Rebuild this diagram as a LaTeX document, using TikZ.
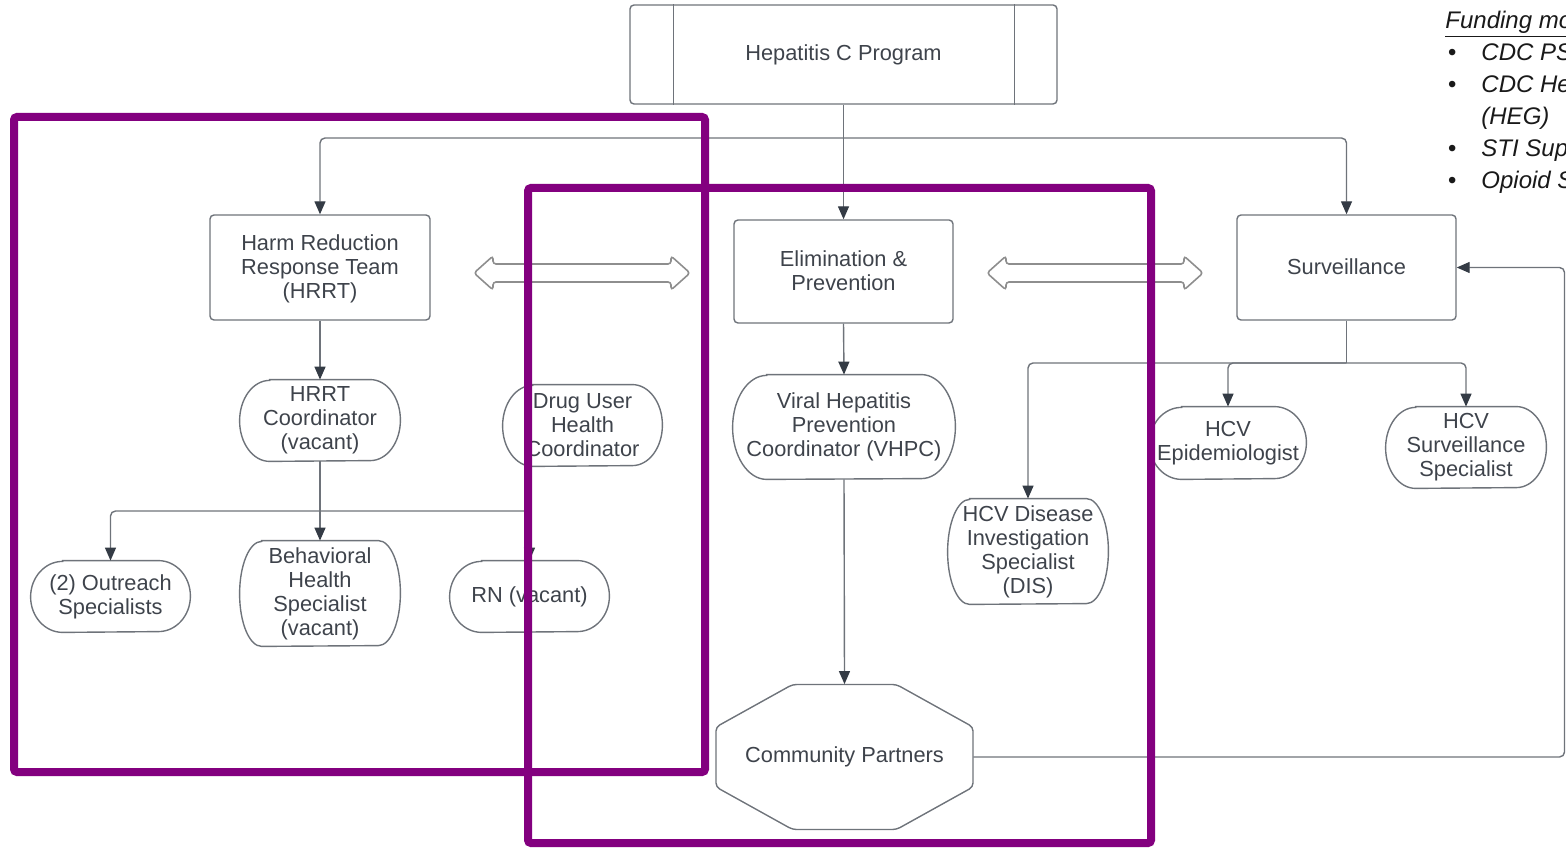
\documentclass[tikz,border=0pt]{standalone}
\usepackage{fontspec}
\setmainfont{Liberation Sans}
\usetikzlibrary{arrows.meta,calc}

\definecolor{edgegray}{HTML}{6E737A}
\definecolor{tipdark}{HTML}{343B45}
\definecolor{labelgray}{HTML}{3E434B}
\definecolor{framepurple}{HTML}{83007F}
\definecolor{arrowgray}{HTML}{8E8E8E}

% stadium-like staff node: name, cx, cy, width, height, end radius, text
\newcommand\pillnode[7]{%
  \node[lbl, minimum width=#4, minimum height=#5] (#1) at (#2,#3) {#7};
  \draw[nodeline] ([xshift=#6]#1.north west) -- ([xshift=-#6]#1.north east)
    arc[start angle=90, end angle=-90, x radius=#6, y radius=#5/2]
    -- ([xshift=#6]#1.south west)
    arc[start angle=270, end angle=90, x radius=#6, y radius=#5/2] -- cycle;}

\begin{document}
\begin{tikzpicture}[x=0.5pt,y=-0.5pt,
  lbl/.style={font=\fontsize{10.9}{12}\selectfont, text=labelgray, align=center, inner sep=0pt},
  nodeline/.style={draw=edgegray, line width=0.7pt},
  box/.style={lbl, draw=edgegray, line width=0.7pt, rounded corners=2pt},
  link/.style={draw=edgegray, line width=0.7pt, rounded corners=2.5pt},
  conn/.style={link, -{Triangle[length=6.5pt,width=5.5pt,color=tipdark]}},
  twoway/.style={draw=arrowgray, line width=0.8pt, rounded corners=1.5pt},
  frame/.style={draw=framepurple, line width=4pt, rounded corners=1.5pt},
  note/.style={font=\fontsize{12}{14}\selectfont\itshape, text=black!90, inner sep=0pt}]

\useasboundingbox (0,0) rectangle (1566,849);
\clip (0,0) rectangle (1566,849);

% program header (process box with side bars)
\node[box, minimum width=213.5pt, minimum height=49.5pt] (prog) at (843.5,54.5) {Hepatitis C Program};
\draw[nodeline] ([xshift=22pt]prog.north west) -- ([xshift=22pt]prog.south west);
\draw[nodeline] ([xshift=-21.5pt]prog.north east) -- ([xshift=-21.5pt]prog.south east);

% three teams
\node[box, minimum width=110pt, minimum height=52.5pt, text depth=1.2pt] (hrrt) at (320,267.5)
  {Harm Reduction\\Response Team\\(HRRT)};
\node[box, minimum width=109.5pt, minimum height=51.5pt, text depth=1.2pt] (elim) at (843.5,271.5)
  {Elimination \&\\Prevention};
\node[box, minimum width=109.5pt, minimum height=52.5pt, text depth=1.2pt] (surv) at (1346.5,267.5)
  {Surveillance};

% staff
\pillnode{hcoord}{320}{420.5}{80pt}{40.5pt}{15pt}{HRRT\\Coordinator\\(vacant)}
\pillnode{dug}{582.5}{425.5}{79.5pt}{40.5pt}{15pt}{Drug User\\Health\\Coordinator}
\pillnode{outreach}{110.5}{596.5}{79.5pt}{35.5pt}{16pt}{(2) Outreach\\Specialists}
\pillnode{behav}{320}{593.5}{80pt}{52.5pt}{11pt}{Behavioral\\Health\\Specialist\\(vacant)}
\pillnode{rn}{529.5}{596.5}{79.5pt}{35.5pt}{16pt}{RN (vacant)}
\pillnode{vhpc}{844}{427}{111pt}{52pt}{17pt}{Viral Hepatitis\\Prevention\\Coordinator (VHPC)}
\pillnode{epi}{1228}{443}{78pt}{36pt}{16pt}{HCV\\Epidemiologist}
\pillnode{sspec}{1466}{447.5}{80pt}{40.5pt}{15pt}{HCV\\Surveillance\\Specialist}
\pillnode{dis}{1028}{551.5}{80pt}{52.5pt}{11pt}{HCV Disease\\Investigation\\Specialist\\(DIS)}

% community partners octagon
\node[lbl, minimum width=128.5pt, minimum height=72.5pt] (cp) at (844.5,757) {Community Partners};
\draw[nodeline, rounded corners=2pt]
  ($(cp)+(-52,-72.5)$) -- ($(cp)+(52,-72.5)$) -- ($(cp)+(128.5,-30)$) -- ($(cp)+(128.5,30)$)
  -- ($(cp)+(52,72.5)$) -- ($(cp)+(-52,72.5)$) -- ($(cp)+(-128.5,30)$) -- ($(cp)+(-128.5,-30)$) -- cycle;

% junction points
\coordinate (bus1) at (843.5,138);
\coordinate (bus2) at (320,511);
\coordinate (bus3) at (1346.5,363);
\coordinate (cpturn) at (1564.5,757);

% connectors
\draw[conn] (prog.south) -- (elim.north);
\draw[conn] (bus1) -| (hrrt.north);
\draw[conn] (bus1) -| (surv.north);
\draw[conn] (hrrt.south) -- (hcoord.north);
\draw[conn] (hcoord.south) -- (behav.north);
\draw[conn] (bus2) -| (outreach.north);
\draw[conn] (bus2) -| (rn.north);
\draw[conn] (elim.south) -- (vhpc.north);
\draw[conn] (vhpc.south) -- (cp.north);
\draw[link] (surv.south) -- (bus3);
\draw[conn] (bus3) -| (dis.north);
\draw[conn] (bus3) -| (epi.north);
\draw[conn] (bus3) -| (sspec.north);
\draw[conn] (cp.east) -- (cpturn) |- (surv.east);

% two-way collaboration arrows
\draw[twoway] (474,273) -- (493,256) -- (493,264) -- (671,264) -- (671,256) -- (690,273)
  -- (671,290) -- (671,282) -- (493,282) -- (493,290) -- cycle;
\draw[twoway] (987,273) -- (1006,256) -- (1006,264) -- (1184,264) -- (1184,256) -- (1203,273)
  -- (1184,290) -- (1184,282) -- (1006,282) -- (1006,290) -- cycle;

% funding list
\node[note, anchor=base west] (fund) at (1445,29) {\underline{Funding mo}};
\node[note, anchor=base] (b1) at (1452,61) {•};
\node[note, anchor=base west] (f1) at (1481,61) {CDC PS};
\node[note, anchor=base] (b2) at (1452,93) {•};
\node[note, anchor=base west] (f2) at (1481,93) {CDC He};
\node[note, anchor=base west] (f2b) at (1481,125) {(HEG)};
\node[note, anchor=base] (b3) at (1452,157) {•};
\node[note, anchor=base west] (f3) at (1481,157) {STI Sup};
\node[note, anchor=base] (b4) at (1452,189) {•};
\node[note, anchor=base west] (f4) at (1481,189) {Opioid S};

% highlight frames
\draw[frame] (14,117) rectangle (705,772);
\draw[frame] (528,188) rectangle (1151,843);
\end{tikzpicture}
\end{document}
